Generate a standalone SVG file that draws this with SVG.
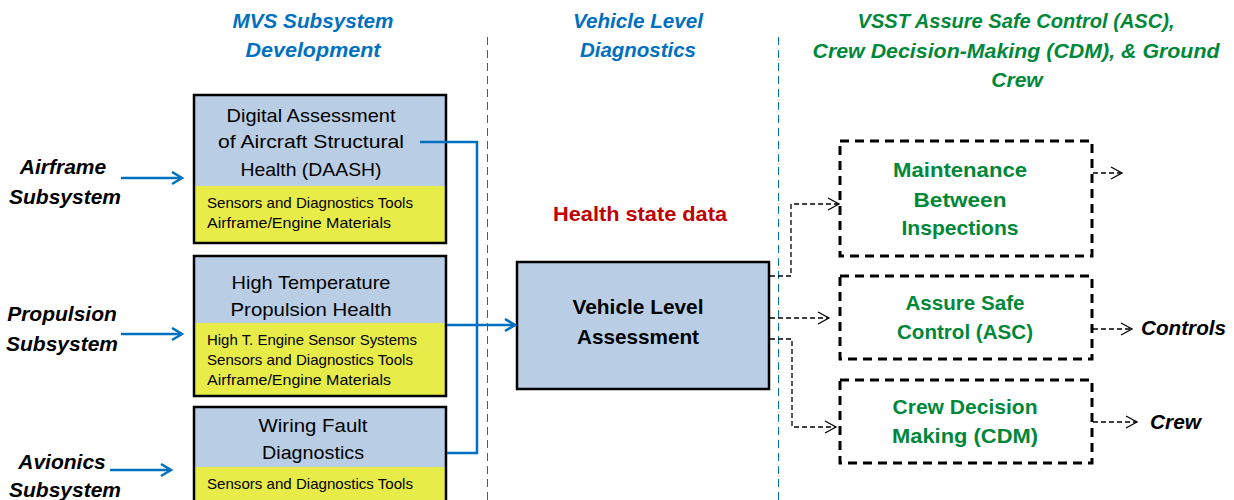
<svg xmlns="http://www.w3.org/2000/svg" width="1234" height="500" viewBox="0 0 1234 500">
<style>
text{font-family:"Liberation Sans",Arial,sans-serif}
.hdrB{font-size:21px;font-weight:bold;font-style:italic;fill:#0070C0;text-anchor:middle}
.hdrG{font-size:21px;font-weight:bold;font-style:italic;fill:#00883A;text-anchor:middle}
.side{font-size:21px;font-weight:bold;font-style:italic;fill:#000;text-anchor:middle}
.ttl{font-size:19px;fill:#000;text-anchor:middle}
.sub{font-size:15px;fill:#000}
.blue{fill:#B9CDE5}
.yel{fill:#E8EC48}
.frame{fill:none;stroke:#000;stroke-width:2.5}
.vla{font-size:21px;font-weight:bold;fill:#000;text-anchor:middle}
.grn{font-size:21px;font-weight:bold;fill:#00883A;text-anchor:middle}
.dbox{fill:#fff;stroke:#000;stroke-width:3;stroke-dasharray:9 6}
.sep{stroke:#0070C0;stroke-width:1;stroke-dasharray:8 5;fill:none}
.bl{stroke:#0070C0;stroke-width:2.5;fill:none}
.dk{stroke:#000;stroke-width:1.3;stroke-dasharray:5 3;fill:none}
</style>
<defs>
<marker id="ab" markerUnits="userSpaceOnUse" markerWidth="14" markerHeight="16" refX="11" refY="7" orient="auto">
<path d="M1,1 L11,7 L1,13" fill="none" stroke="#0070C0" stroke-width="2.5"/>
</marker>
<marker id="ak" markerUnits="userSpaceOnUse" markerWidth="14" markerHeight="16" refX="12" refY="7" orient="auto">
<path d="M1,1 L12,7 L1,13" fill="none" stroke="#000" stroke-width="1.3"/>
</marker>
</defs>
<rect width="1234" height="500" fill="#fff"/>

<g id="headers">
<text class="hdrB" x="313" y="28" textLength="161" lengthAdjust="spacingAndGlyphs">MVS Subsystem</text>
<text class="hdrB" x="313" y="57" textLength="135" lengthAdjust="spacingAndGlyphs">Development</text>
<text class="hdrB" x="638" y="28" textLength="130" lengthAdjust="spacingAndGlyphs">Vehicle Level</text>
<text class="hdrB" x="638" y="57" textLength="116" lengthAdjust="spacingAndGlyphs">Diagnostics</text>
<text class="hdrG" x="1016" y="28" textLength="317" lengthAdjust="spacingAndGlyphs">VSST Assure Safe Control (ASC),</text>
<text class="hdrG" x="1016" y="58" textLength="407" lengthAdjust="spacingAndGlyphs">Crew Decision-Making (CDM), &amp; Ground</text>
<text class="hdrG" x="1017" y="87">Crew</text>
</g>

<g id="separators">
<line class="sep" x1="487.5" y1="37" x2="487.5" y2="500"/>
<line class="sep" x1="778.5" y1="37" x2="778.5" y2="500"/>
</g>

<g id="airframe">
<text class="side" x="63" y="174">Airframe</text>
<text class="side" x="65" y="204">Subsystem</text>
</g>
<g id="propulsion">
<text class="side" x="62" y="321">Propulsion</text>
<text class="side" x="62" y="351">Subsystem</text>
</g>
<g id="avionics">
<text class="side" x="62" y="469">Avionics</text>
<text class="side" x="65" y="497">Subsystem</text>
</g>

<g id="daash">
<rect class="blue" x="194" y="95" width="252" height="91"/>
<rect class="yel" x="194" y="186" width="252" height="57"/>
<rect class="frame" x="194" y="95" width="252" height="148"/>
<text class="ttl" x="311" y="122" textLength="169" lengthAdjust="spacingAndGlyphs">Digital Assessment</text>
<text class="ttl" x="311" y="148" textLength="186" lengthAdjust="spacingAndGlyphs">of Aircraft Structural</text>
<text class="ttl" x="311" y="176" textLength="141" lengthAdjust="spacingAndGlyphs">Health (DAASH)</text>
<text class="sub" x="207" y="208" textLength="206" lengthAdjust="spacingAndGlyphs">Sensors and Diagnostics Tools</text>
<text class="sub" x="207" y="228" textLength="184" lengthAdjust="spacingAndGlyphs">Airframe/Engine Materials</text>
</g>

<g id="htph">
<rect class="blue" x="194" y="256" width="252" height="67"/>
<rect class="yel" x="194" y="323" width="252" height="73"/>
<rect class="frame" x="194" y="256" width="252" height="140"/>
<text class="ttl" x="311" y="289" textLength="159" lengthAdjust="spacingAndGlyphs">High Temperature</text>
<text class="ttl" x="311" y="316" textLength="161" lengthAdjust="spacingAndGlyphs">Propulsion Health</text>
<text class="sub" x="207" y="345" textLength="210" lengthAdjust="spacingAndGlyphs">High T. Engine Sensor Systems</text>
<text class="sub" x="207" y="365" textLength="206" lengthAdjust="spacingAndGlyphs">Sensors and Diagnostics Tools</text>
<text class="sub" x="207" y="385" textLength="184" lengthAdjust="spacingAndGlyphs">Airframe/Engine Materials</text>
</g>

<g id="wiring">
<rect class="blue" x="194" y="407" width="252" height="60"/>
<rect class="yel" x="194" y="467" width="252" height="40"/>
<rect class="frame" x="194" y="407" width="252" height="120"/>
<text class="ttl" x="313" y="432" textLength="109" lengthAdjust="spacingAndGlyphs">Wiring Fault</text>
<text class="ttl" x="313" y="459" textLength="102" lengthAdjust="spacingAndGlyphs">Diagnostics</text>
<text class="sub" x="207" y="489" textLength="206" lengthAdjust="spacingAndGlyphs">Sensors and Diagnostics Tools</text>
</g>

<g id="health-label">
<text x="640" y="221" font-size="21" font-weight="bold" fill="#C00000" text-anchor="middle" textLength="174" lengthAdjust="spacingAndGlyphs">Health state data</text>
</g>

<g id="vla">
<rect x="517" y="262" width="252" height="127" fill="#B9CDE5" stroke="#000" stroke-width="2.5"/>
<text class="vla" x="638" y="314" textLength="131" lengthAdjust="spacingAndGlyphs">Vehicle Level</text>
<text class="vla" x="638" y="344" textLength="122" lengthAdjust="spacingAndGlyphs">Assessment</text>
</g>

<g id="mbi">
<rect class="dbox" x="840" y="141" width="252" height="115"/>
<text class="grn" x="960" y="177" textLength="134" lengthAdjust="spacingAndGlyphs">Maintenance</text>
<text class="grn" x="960" y="207" textLength="93" lengthAdjust="spacingAndGlyphs">Between</text>
<text class="grn" x="960" y="235" textLength="117" lengthAdjust="spacingAndGlyphs">Inspections</text>
</g>
<g id="asc">
<rect class="dbox" x="840" y="276" width="252" height="83"/>
<text class="grn" x="965" y="310" textLength="119" lengthAdjust="spacingAndGlyphs">Assure Safe</text>
<text class="grn" x="965" y="339" textLength="136" lengthAdjust="spacingAndGlyphs">Control (ASC)</text>
</g>
<g id="cdm">
<rect class="dbox" x="840" y="380" width="252" height="83"/>
<text class="grn" x="965" y="414" textLength="145" lengthAdjust="spacingAndGlyphs">Crew Decision</text>
<text class="grn" x="965" y="443" textLength="146" lengthAdjust="spacingAndGlyphs">Making (CDM)</text>
</g>

<g id="outputs">
<text x="1141" y="335" font-size="21" font-weight="bold" font-style="italic" fill="#000" textLength="85" lengthAdjust="spacingAndGlyphs">Controls</text>
<text x="1150" y="429" font-size="21" font-weight="bold" font-style="italic" fill="#000" textLength="51" lengthAdjust="spacingAndGlyphs">Crew</text>
</g>

<g id="connectors">
<line class="bl" x1="121" y1="178" x2="182" y2="178" marker-end="url(#ab)"/>
<line class="bl" x1="121" y1="334" x2="182" y2="334" marker-end="url(#ab)"/>
<line class="bl" x1="110" y1="470" x2="171" y2="470" marker-end="url(#ab)"/>
<path class="bl" d="M420,142 H477 V453 H447"/>
<line class="bl" x1="447" y1="325" x2="515" y2="325" marker-end="url(#ab)"/>
<path class="dk" d="M770,276 H791 V204 H839" marker-end="url(#ak)"/>
<line class="dk" x1="770" y1="318" x2="829" y2="318" marker-end="url(#ak)"/>
<path class="dk" d="M770,339 H792 V427 H836" marker-end="url(#ak)"/>
<line class="dk" x1="1093" y1="173" x2="1122" y2="173" marker-end="url(#ak)"/>
<line class="dk" x1="1093" y1="329" x2="1132" y2="329" marker-end="url(#ak)"/>
<line class="dk" x1="1093" y1="422" x2="1137" y2="422" marker-end="url(#ak)"/>
</g>
</svg>
